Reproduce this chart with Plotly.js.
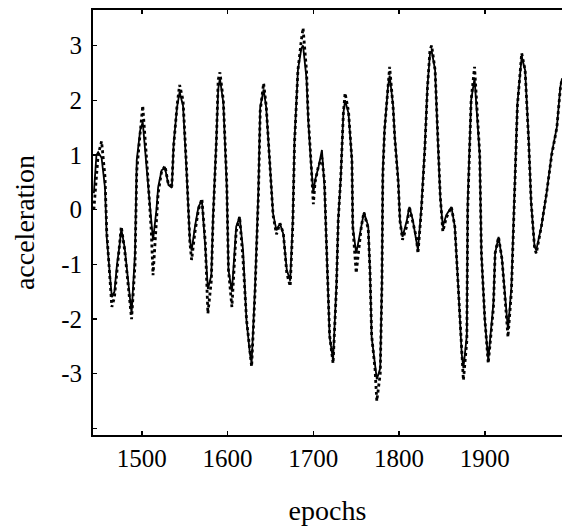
<!DOCTYPE html>
<html>
<head>
<meta charset="utf-8">
<script src="https://cdn.plot.ly/plotly-3.0.1.min.js"></script>
<style>html,body{margin:0;padding:0;background:#fff;}#chart{width:562px;height:526px;}</style>
</head>
<body>
<div id="chart"></div>
<script>
// Epochs (years)
const epochs = [1444,1447,1449,1453,1457,1459,1463,1465,1468,1471,1474,1476,1480,1484,1488,1492,1494,1498,1501,1507,
1511,1513,1517,1519,1523,1527,1531,1535,1537,1541,1544,1548,1552,1554,1556,1558,1562,1566,1570,1574,
1577,1581,1583,1587,1589,1591,1595,1599,1601,1605,1608,1610,1614,1618,1622,1626,1628,1632,1636,1638,
1642,1645,1649,1653,1657,1661,1665,1669,1673,1676,1678,1682,1686,1688,1692,1694,1697,1700,1702,1706,
1710,1713,1715,1717,1719,1723,1727,1729,1732,1735,1737,1741,1745,1746,1750,1756,1759,1764,1766,1768,
1772,1774,1778,1780,1781,1783,1787,1789,1793,1795,1799,1801,1804,1809,1812,1816,1820,1822,1826,1830,
1833,1836,1838,1842,1845,1848,1851,1855,1861,1865,1869,1873,1875,1879,1880,1884,1888,1894,1896,1900,
1904,1910,1912,1916,1920,1923,1927,1931,1935,1938,1943,1947,1951,1954,1958,1960,1966,1972,1978,1984,1988,1990];

// Solid curve (model)
const modelAcc = [0.3,1.0,1.05,0.95,0.4,-0.5,-1.25,-1.6,-1.5,-1.0,-0.65,-0.35,-0.7,-1.35,-1.9,-0.8,0.9,1.45,1.6,0.5,
-0.2,-0.56,0.0,0.41,0.72,0.76,0.45,0.4,1.2,1.87,2.15,1.9,0.72,0.12,-0.56,-0.75,-0.3,0.05,0.17,-0.7,
-1.45,-1.2,-0.13,1.33,2.2,2.4,1.95,0.41,-1.1,-1.5,-0.7,-0.31,-0.13,-0.74,-2.02,-2.63,-2.8,-1.41,0.41,1.87,
2.2,1.87,0.9,-0.07,-0.38,-0.25,-0.45,-1.1,-1.3,-0.19,1.27,2.55,2.95,3.0,2.4,1.64,0.9,0.3,0.54,0.78,
1.09,0.41,-0.5,-1.41,-2.33,-2.75,-1.35,-0.19,0.6,1.76,2.0,1.76,0.9,-0.31,-0.8,-0.3,-0.05,-0.3,-1.1,-2.33,
-2.93,-3.1,-2.9,-1.29,0.72,1.45,2.24,2.45,1.9,1.33,0.54,-0.19,-0.5,-0.2,0.05,-0.19,-0.56,-0.74,0.05,1.15,
2.24,2.85,2.9,2.55,1.33,0.23,-0.31,-0.1,0.05,-0.31,-1.41,-2.63,-2.9,-2.3,0.12,2.0,2.4,1.0,-0.8,-2.02,
-2.75,-1.71,-0.8,-0.5,-0.9,-1.41,-2.2,-1.41,0.41,1.94,2.8,2.55,1.33,0.12,-0.68,-0.74,-0.3,0.3,1.03,1.51,2.24,2.4];

// Dotted curve (observed)
const observedAcc = [0.0,0.6,1.0,1.25,0.6,-0.4,-1.3,-1.78,-1.6,-1.1,-0.7,-0.31,-0.75,-1.4,-2.0,-1.0,0.7,1.4,1.9,0.6,
-0.4,-1.2,-0.3,0.3,0.7,0.8,0.45,0.45,1.15,1.9,2.28,2.0,0.8,0.1,-0.6,-0.92,-0.4,0.0,0.2,-0.6,
-1.9,-1.3,-0.2,1.3,2.37,2.51,2.0,0.5,-1.1,-1.78,-0.9,-0.4,-0.13,-0.92,-2.0,-2.6,-2.87,-1.5,0.3,1.8,
2.31,1.9,0.9,-0.1,-0.45,-0.25,-0.43,-1.16,-1.4,-0.3,1.2,2.55,3.1,3.32,2.55,1.7,0.95,0.1,0.5,0.8,
0.95,0.5,-0.5,-1.4,-2.3,-2.81,-1.4,-0.2,0.6,1.76,2.13,1.8,0.9,-0.31,-1.16,-0.3,-0.05,-0.35,-1.1,-2.3,
-2.93,-3.5,-3.0,-1.35,0.6,1.45,2.2,2.61,1.87,1.3,0.5,-0.2,-0.55,-0.3,0.05,-0.2,-0.5,-0.8,0.0,1.1,
2.2,2.92,3.0,2.55,1.4,0.25,-0.4,-0.15,0.05,-0.31,-1.41,-2.6,-3.12,-2.4,0.0,2.0,2.61,1.03,-0.8,-2.0,
-2.81,-1.8,-0.8,-0.5,-0.9,-1.5,-2.33,-1.5,0.4,1.9,2.86,2.55,1.3,0.15,-0.7,-0.8,-0.3,0.3,1.0,1.5,2.2,2.4];

const xTickVals = [1500,1600,1700,1800,1900];
const xTickText = ['1500','1600','1700','1800','1900'];
const yTickVals = [-4,-3,-2,-1,0,1,2,3];
const yTickText = ['','-3','-2','-1','0','1','2','3'];

const serif = "'Liberation Serif', 'DejaVu Serif', serif";

const traces = [
  {x: epochs, y: modelAcc, type: 'scatter', mode: 'lines', name: 'model',
   line: {color: '#000', width: 1.8}},
  {x: epochs, y: observedAcc, type: 'scatter', mode: 'lines', name: 'observed',
   line: {color: '#000', width: 2.8, dash: 'dot'}}
];

const layout = {
  width: 562, height: 526,
  margin: {l: 93, r: 0, t: 10, b: 91},
  paper_bgcolor: '#fff', plot_bgcolor: '#fff',
  showlegend: false,
  font: {family: serif, color: '#000', size: 25},
  xaxis: {
    range: [1443, 1990],
    tickvals: xTickVals, ticktext: xTickText,
    ticks: 'inside', ticklen: 4, tickcolor: '#000', tickwidth: 1.5,
    ticklabelstandoff: 0,
    showline: true, linecolor: '#000', linewidth: 2, mirror: 'ticks',
    showgrid: false, zeroline: false,
    tickfont: {family: serif, size: 25, color: '#000'},
    title: {text: 'epochs', font: {family: serif, size: 28, color: '#000'}, standoff: 33}
  },
  yaxis: {
    range: [-4.12, 3.65],
    tickvals: yTickVals, ticktext: yTickText,
    ticks: 'inside', ticklen: 4, tickcolor: '#000', tickwidth: 1.5,
    ticklabelstandoff: 4,
    showline: true, linecolor: '#000', linewidth: 2, mirror: false,
    showgrid: false, zeroline: false,
    tickfont: {family: serif, size: 25, color: '#000'},
    title: {text: 'acceleration', font: {family: serif, size: 28, color: '#000'}, standoff: 18}
  }
};

Plotly.newPlot('chart', traces, layout, {displayModeBar: false, staticPlot: true});
</script>
</body>
</html>
